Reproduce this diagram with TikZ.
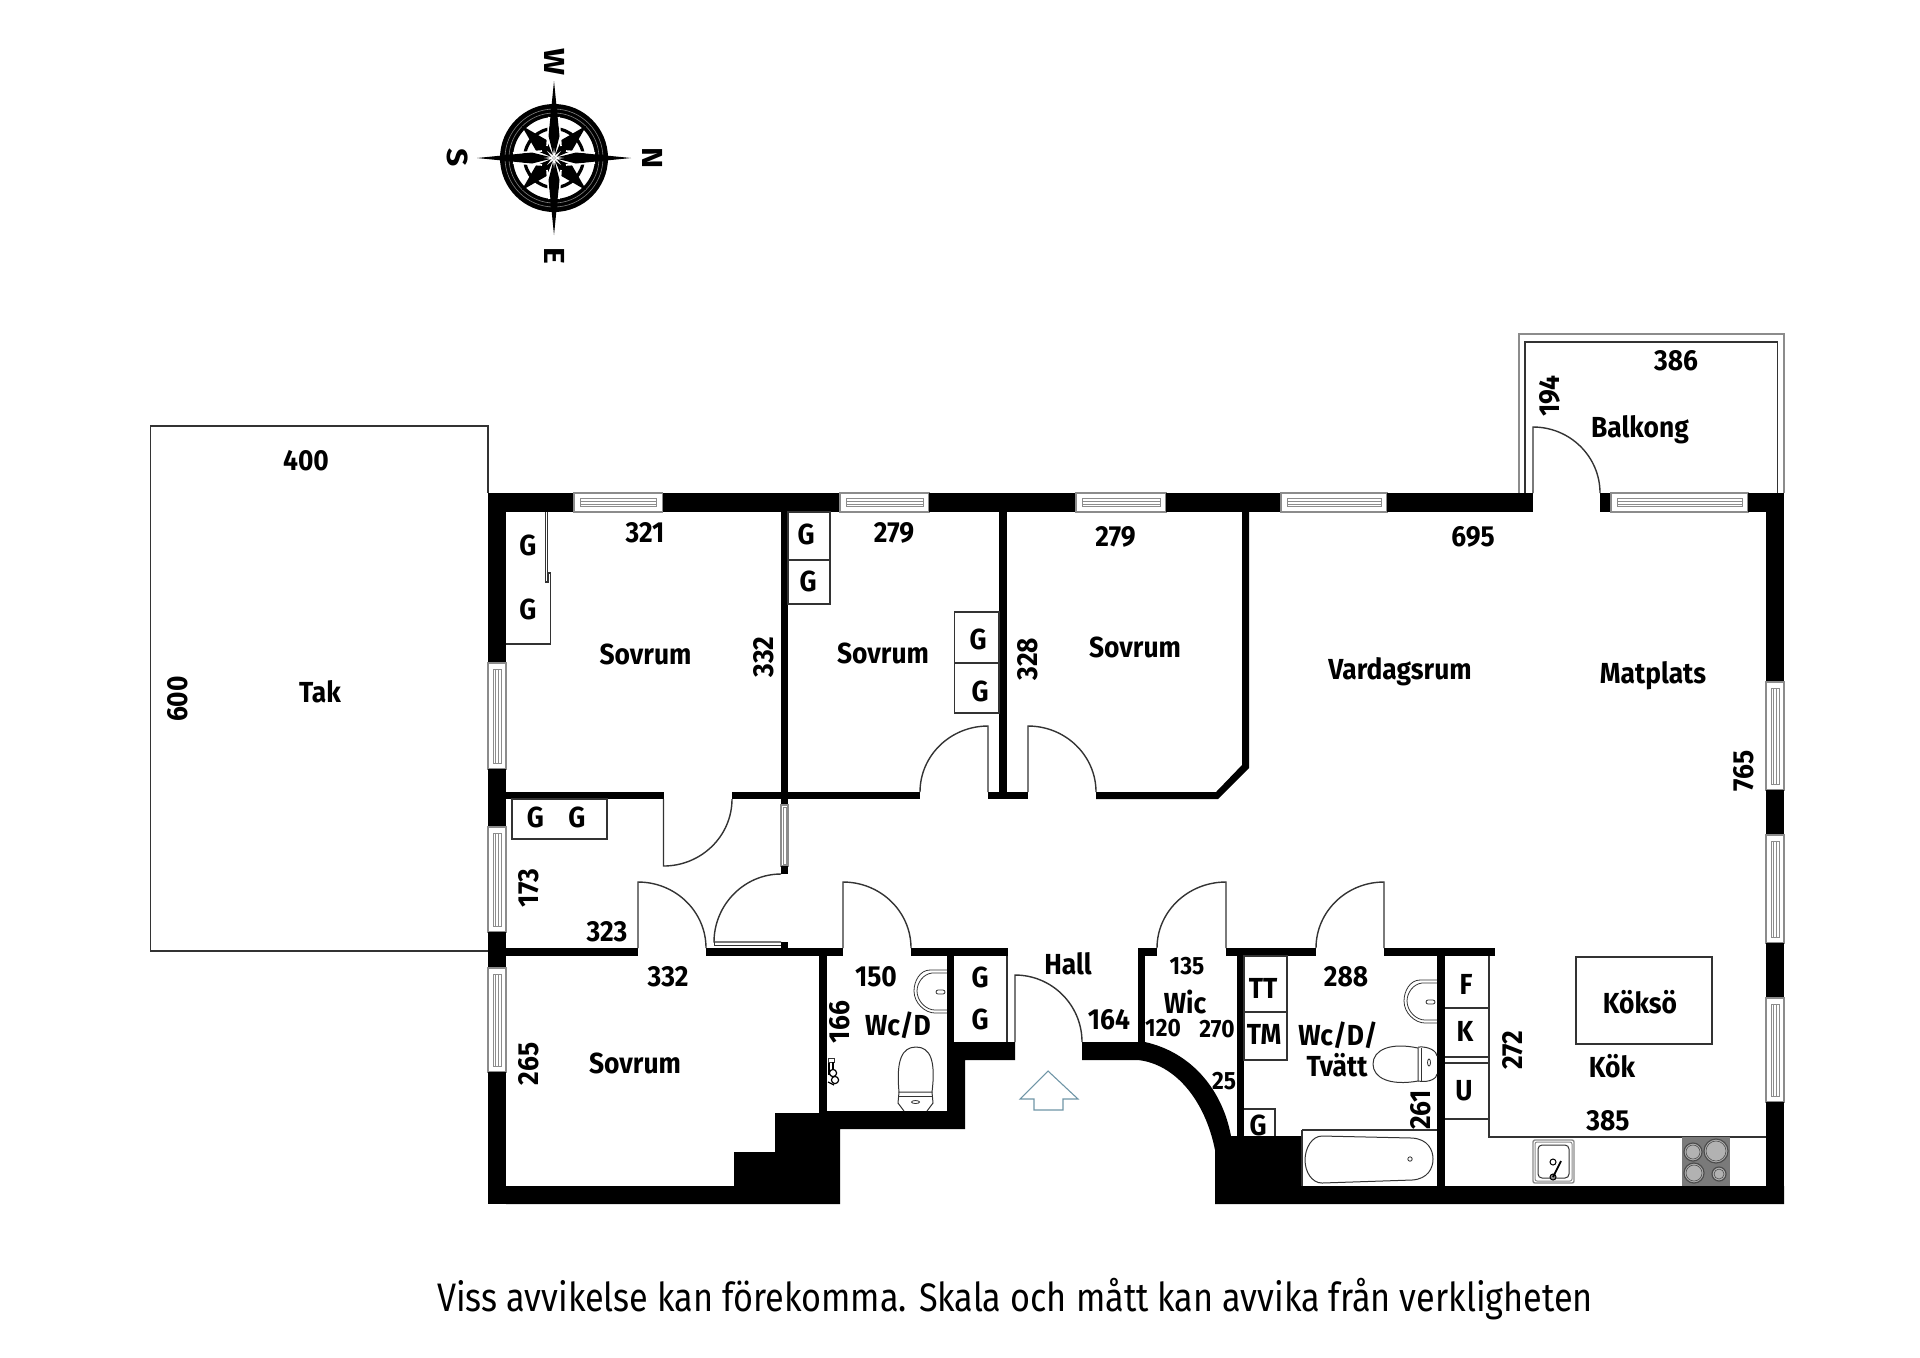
\documentclass[tikz,border=0pt]{standalone}
\usepackage{fontspec}
\setmainfont{Fira Sans}[FakeStretch=0.91]
\newfontfamily\notefont{Fira Sans}[FakeStretch=0.86]
\newfontfamily\compassfont{Fira Sans}[FakeStretch=1.1]
\definecolor{wincol}{gray}{0.55}
\definecolor{thincol}{gray}{0.2}
\definecolor{arrowcol}{HTML}{6F95A6}
\newcounter{lbl}
\newcommand{\lab}[4][]{\stepcounter{lbl}\node[txt,#1] (n\thelbl) at (#2,#3) {#4};}
\newcommand{\wall}[4]{\fill[black] (#1,#2) rectangle (#3,#4);}
\newcommand{\cab}[4]{\draw[thin line] (#1,#2) rectangle (#3,#4);}
\newcommand{\hwin}[4]{%
  \draw[winline,fill=white] (#1,#2) rectangle (#3,#4);
  \draw[winline,line width=0.35pt] ({#1+6},{(#2+#4)/2-4}) rectangle ({#3-6},{(#2+#4)/2+4});
  \draw[winline,line width=0.35pt] ({#1+6},{(#2+#4)/2-1.5}) -- ({#3-6},{(#2+#4)/2-1.5});
  \draw[winline,line width=0.35pt] ({#1+6},{(#2+#4)/2+1.5}) -- ({#3-6},{(#2+#4)/2+1.5});}
\newcommand{\vwin}[4]{%
  \draw[winline,fill=white] (#1,#2) rectangle (#3,#4);
  \draw[winline,line width=0.35pt] ({(#1+#3)/2-4},{#2+6}) rectangle ({(#1+#3)/2+4},{#4-6});
  \draw[winline,line width=0.35pt] ({(#1+#3)/2-1.5},{#2+6}) -- ({(#1+#3)/2-1.5},{#4-6});
  \draw[winline,line width=0.35pt] ({(#1+#3)/2+1.5},{#2+6}) -- ({(#1+#3)/2+1.5},{#4-6});}
\newcommand{\narrowwin}[4]{%
  \draw[winline,fill=white] (#1,#2) rectangle (#3,#4);
  \draw[winline,line width=0.35pt] ({(#1+#3)/2-1.5},{#2+2}) rectangle ({(#1+#3)/2+1.5},{#4-2});}
\newcommand{\door}[4]{%
  \draw[thin line] (#1,#2) -- (#1,{#2+#4})
    .. controls ({#1+.5523*#3},{#2+#4}) and ({#1+#3},{#2+.5523*#4}) .. ({#1+#3},#2);}
\tikzset{
  txt/.style={font=\bfseries\fontsize{14.5}{16}\selectfont,inner sep=0pt,text=black},
  small/.style={font=\bfseries\fontsize{12.5}{14}\selectfont},
  compassletter/.style={rotate=-90,font=\compassfont\bfseries\fontsize{14.5}{16}\selectfont},
  thin line/.style={draw=thincol,line width=0.7pt},
  hair/.style={draw=thincol,line width=0.4pt},
  winline/.style={draw=wincol,line width=0.55pt},
}
\begin{document}
\begin{tikzpicture}[x=0.5pt,y=-0.5pt]
\useasboundingbox (0,0) rectangle (1920,1357);

% compass
\begin{scope}[shift={(554,158)}]
  \fill[black,even odd rule] (0,0) circle[radius=54] (0,0) circle[radius=41];
  \draw[gray,line width=0.3pt] (0,0) circle[radius=49];
  \draw[gray,line width=0.3pt] (0,0) circle[radius=45];
  \draw[black,line width=1.6pt] (0,0) circle[radius=29.4];
  \foreach \a in {45,135,225,315}{
    \fill[black,rotate=\a] (0,0) -- (18,7.5) -- (46,0) -- (18,-7.5) -- cycle;
  }
  \foreach \a in {0,90,180,270}{
    \draw[white,line width=0.8pt,rotate=\a] (12,7) -- (41,5) (12,-7) -- (41,-5);
    \fill[black,rotate=\a] (0,0) -- (22,5.5) -- (77,0) -- (22,-5.5) -- cycle;
  }
  \foreach \a in {0,45,...,315}{
    \fill[white,rotate=\a] (0,0) -- (3,1) -- (10,0) -- (3,-1) -- cycle;
  }
\end{scope}
\lab[compassletter]{555}{62}{W}
\lab[compassletter]{555}{256}{E}
\lab[compassletter]{458}{158}{S}
\lab[compassletter]{653}{158}{N}

% roof
\draw[thin line] (488,951) -- (150.5,951) -- (150.5,426) -- (488,426) -- (488,493);

% balcony
\draw[winline,line width=0.7pt] (1519,493) -- (1519,334) -- (1784,334) -- (1784,493);
\draw[thin line] (1525,493) -- (1525,342) -- (1777.5,342) -- (1777.5,493);

% outer walls: top
\wall{488}{493}{574}{512}
\hwin{574}{493}{662.5}{512}
\wall{662.5}{493}{840}{512}
\hwin{840}{493}{929}{512}
\wall{929}{493}{1076}{512}
\hwin{1076}{493}{1166}{512}
\wall{1166}{493}{1281}{512}
\hwin{1281}{493}{1387}{512}
\wall{1387}{493}{1533}{512}
\wall{1600}{493}{1611}{512}
\hwin{1611}{493}{1748}{512}
\wall{1748}{493}{1784}{512}
% right
\wall{1766}{493}{1784}{682}
\vwin{1766}{682}{1784}{790}
\wall{1766}{790}{1784}{835}
\vwin{1766}{835}{1784}{943}
\wall{1766}{943}{1784}{998}
\vwin{1766}{998}{1784}{1102}
\wall{1766}{1102}{1784}{1204}
% left
\wall{488}{493}{506}{663}
\vwin{488}{663}{506}{769}
\wall{488}{769}{506}{827}
\vwin{488}{827}{506}{932}
\wall{488}{932}{506}{968}
\vwin{488}{968}{506}{1072}
\wall{488}{1072}{506}{1204}

% bottom left block and WC enclosure
\fill[black] (506,1186) -- (734,1186) -- (734,1152) -- (775,1152) -- (775,1113) -- (819,1113)
  -- (819,1111) -- (947,1111) -- (947,1042) -- (1015,1042) -- (1015,1060) -- (965,1060)
  -- (965,1129) -- (840,1129) -- (840,1204) -- (506,1204) -- cycle;
% bottom right with curved wall
\fill[black] (1082,1042) -- (1145,1042) .. controls (1190,1052) and (1222,1088) .. (1231,1136)
  -- (1302,1136) -- (1302,1186) -- (1784,1186) -- (1784,1204) -- (1215,1204) -- (1215,1150)
  .. controls (1205,1100) and (1175,1064) .. (1138,1060) -- (1082,1060) -- cycle;

% interior walls
\wall{506}{792}{663.5}{799}
\wall{732}{792}{920}{799}
\wall{988}{792}{1028}{799}
\fill[black] (1096,792) -- (1216,792) -- (1242,765) -- (1242,512) -- (1249,512) -- (1249,768)
  -- (1218,799) -- (1096,799) -- cycle;
\wall{781}{512}{788}{792}
\wall{999}{512}{1007}{792}
\wall{781}{799}{788}{805}
\narrowwin{781}{805}{788}{866}
\wall{781}{866}{788}{874}
\wall{781}{942}{788}{948}
\wall{506}{948}{638}{956}
\wall{706}{948}{843}{956}
\wall{911}{948}{1008}{956}
\wall{819}{956}{827}{1111}
\wall{947}{956}{954}{1042}
\wall{1138}{948}{1157}{956}
\wall{1138}{956}{1145}{1042}
\wall{1226}{948}{1316}{956}
\wall{1384}{948}{1495}{956}
\wall{1237}{956}{1244}{1136}
\wall{1437}{956}{1445}{1186}

% doors
\door{663.5}{799}{68.5}{67}
\door{638}{948}{68}{-66}
\door{843}{948}{68}{-66}
\door{988}{792}{-68}{-66}
\door{1028}{792}{68}{-66}
\door{1226}{948}{-69}{-66}
\door{1384}{948}{-68}{-66}
\door{1015}{1042}{67}{-67}
\door{1533}{493}{67}{-66}
% door with double leaf line
\draw[thin line] (781,874) .. controls (744,874) and (714,905) .. (714,942) -- (781,942);
\draw[hair] (714,942) -- (714,945) -- (781,945);

% closets
\draw[thin line] (545.5,512) -- (545.5,582) -- (548,582) -- (548,573) -- (550.5,573) -- (550.5,644) -- (506,644);
\draw[hair] (547.5,512) -- (547.5,573);
\cab{788}{512}{830}{560}
\cab{788}{560}{830}{604}
\cab{954.5}{612}{999}{663}
\cab{954.5}{663}{999}{713}
\cab{512}{799}{607}{839}
\draw[thin line] (1007,956) -- (1007,1042);
\cab{1244}{956}{1287}{1012}
\cab{1244}{1012}{1287}{1060}
\draw[thin line] (1244,1109) -- (1275,1109) -- (1275,1136);
% kitchen units
\draw[thin line] (1489,956) -- (1489,1137) -- (1766,1137);
\draw[thin line] (1445,1008) -- (1489,1008);
\draw[thin line] (1445,1057) -- (1489,1057);
\draw[thin line] (1445,1063) -- (1489,1063);
\draw[thin line] (1445,1119) -- (1489,1119);
\cab{1576}{957}{1712}{1044}

% bath
\draw[thin line] (1302,1130) -- (1437,1130);
\draw[thin line] (1302,1130) -- (1302,1186);
\draw[thin line,line width=0.5pt] (1322,1136) -- (1412,1138) .. controls (1428,1139) and (1433,1150) .. (1433,1159)
  .. controls (1433,1168) and (1428,1179) .. (1412,1180) -- (1322,1183)
  .. controls (1312,1183) and (1305,1172) .. (1305,1160) .. controls (1305,1148) and (1312,1136) .. (1322,1136);
\draw[hair] (1410,1159) circle[radius=2.2];

% wash basins
\foreach \sx/\sy in {0/0,490/10}{
\begin{scope}[shift={(\sx,\sy)}]
  \draw[hair] (947,970) -- (930,970) .. controls (920,970) and (914,981) .. (914,991)
     .. controls (914,1003) and (925,1013) .. (935,1013) -- (947,1013);
  \draw[hair] (947,973) -- (932,973) .. controls (923,974) and (917,983) .. (917,991)
     .. controls (917,1001) and (926,1010) .. (935,1010) -- (947,1010);
  \draw[hair,rounded corners=1pt] (936,990) rectangle (945,994);
\end{scope}
}

% toilet vertical
\draw[thin line,line width=0.5pt] (899,1092) .. controls (896,1060) and (902,1047) .. (916,1047)
   .. controls (930,1047) and (936,1060) .. (932,1092) -- cycle;
\draw[thin line,line width=0.5pt] (899,1092) -- (898,1103) -- (904,1111);
\draw[thin line,line width=0.5pt] (932,1092) -- (933,1103) -- (927,1111);
\draw[hair] (899,1096) -- (932,1096);
\draw[hair] (915.5,1102) ellipse[x radius=4,y radius=1.5];
% toilet horizontal
\draw[thin line,line width=0.5pt] (1418,1048) .. controls (1390,1042) and (1373,1050) .. (1373,1064)
   .. controls (1373,1078) and (1390,1086) .. (1418,1081) -- cycle;
\draw[thin line,line width=0.5pt] (1418,1047) .. controls (1430,1046) and (1437,1052) .. (1437,1056);
\draw[thin line,line width=0.5pt] (1418,1081) .. controls (1430,1083) and (1437,1078) .. (1437,1074);
\draw[hair] (1421,1048) -- (1421,1081);
\draw[hair] (1429,1062.5) ellipse[x radius=1.5,y radius=3.5];

% faucet on WC wall
\draw[hair,fill=white] (828,1058) rectangle (834,1062);
\draw[black,line width=0.6pt] (829,1063) -- (829,1075) (833,1062) -- (833,1072);
\draw[black,line width=0.6pt,fill=white] (833,1073) circle[radius=3.6];
\draw[black,line width=0.6pt,fill=white] (835,1080) circle[radius=3.6];
\draw[black,line width=0.6pt] (828,1082) -- (834,1085);

% kitchen sink
\draw[draw=wincol,line width=0.7pt,rounded corners=1pt] (1533,1140) rectangle (1574,1183);
\draw[draw=wincol,line width=0.5pt,rounded corners=1pt] (1535,1142) rectangle (1572,1181);
\draw[thin line,line width=0.5pt,rounded corners=2pt] (1538,1145) rectangle (1569,1178);
\draw[black,line width=0.5pt,fill=wincol] (1553,1177) circle[radius=3];
\draw[black,line width=0.5pt,fill=white] (1553,1162) circle[radius=3];
\draw[black,line width=0.9pt] (1553,1177) -- (1561,1161);
% hob
\fill[black!52] (1682,1137) rectangle (1730,1186);
\foreach \hx/\hy/\hr in {1693/1152/9,1716/1151/12,1694/1173/10,1719/1174/7}{
  \draw[black!70,line width=0.6pt,fill=black!30] (\hx,\hy) circle[radius=\hr];
  \draw[black!70,line width=0.3pt] (\hx,\hy) circle[radius=\hr-2];
}

% entry arrow
\draw[draw=arrowcol,line width=0.55pt] (1048,1071) -- (1078,1099) -- (1063,1099) -- (1063,1110) -- (1034,1110) -- (1034,1099) -- (1020,1099) -- cycle;

% labels
\lab{306}{461}{400}
\lab{320}{692}{Tak}
\lab[rotate=90]{177.5}{699}{600}
\lab{645}{533}{321}
\lab{894}{533}{279}
\lab{1115.5}{537}{279}
\lab{1473}{537}{695}
\lab{528}{545}{G}
\lab{528}{609}{G}
\lab{806}{534}{G}
\lab{808}{581}{G}
\lab{978}{639}{G}
\lab{980}{691}{G}
\lab{535.5}{817}{G}
\lab{577}{817}{G}
\lab{645.5}{654}{Sovrum}
\lab{883}{653}{Sovrum}
\lab{1135}{647}{Sovrum}
\lab[rotate=90]{764}{657}{332}
\lab[rotate=90]{1028}{659}{328}
\lab[rotate=90]{528.5}{888}{173}
\lab{607}{932}{323}
\lab{668}{977}{332}
\lab[rotate=90]{528.5}{1064}{265}
\lab{635}{1063}{Sovrum}
\lab{876}{977}{150}
\lab[rotate=90]{840}{1022}{166}
\lab{898}{1025}{Wc/D}
\lab{980}{977}{G}
\lab{980}{1019}{G}
\lab{1068}{964}{Hall}
\lab{1109}{1020}{164}
\lab[small]{1187}{966}{135}
\lab{1185}{1002}{Wic}
\lab[small]{1163}{1028}{120}
\lab[small]{1217}{1029}{270}
\lab[small]{1224}{1081}{25}
\lab{1263}{988}{TT}
\lab{1264}{1034}{TM}
\lab{1258}{1125}{G}
\lab{1346}{977}{288}
\lab{1338}{1035}{Wc/D/}
\lab{1337}{1065}{Tvätt}
\lab[rotate=90]{1421}{1110}{261}
\lab{1466}{984}{F}
\lab{1465}{1031}{K}
\lab{1464}{1091}{U}
\lab[rotate=90]{1513}{1050}{272}
\lab{1640}{1002}{Köksö}
\lab{1612}{1066}{Kök}
\lab{1608}{1121}{385}
\lab{1640}{430}{Balkong}
\lab{1676}{361}{386}
\lab[rotate=90]{1550}{396}{194}
\lab[rotate=90]{1744}{771}{765}
\lab{1400}{672}{Vardagsrum}
\lab{1653}{676}{Matplats}
\lab[font=\notefont\fontsize{19.9}{22}\selectfont]{1015}{1299}{Viss avvikelse kan förekomma. Skala och mått kan avvika från verkligheten}
\end{tikzpicture}
\end{document}
